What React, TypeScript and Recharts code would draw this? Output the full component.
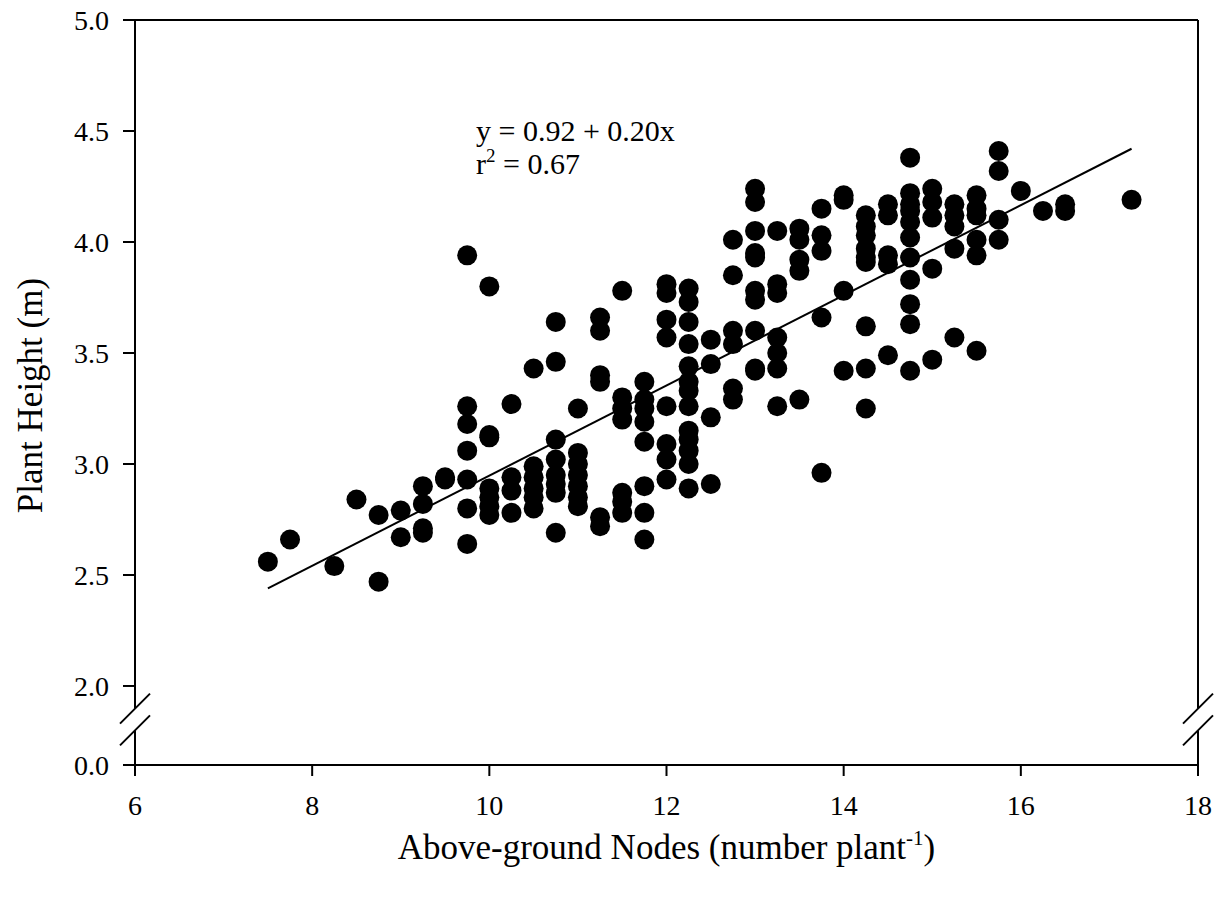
import { Label, ReferenceDot, ReferenceLine, Scatter, ScatterChart, XAxis, YAxis } from "recharts";

// above-ground node counts (one column of points per count)
const NODE_COUNTS = [
  7.5, 7.75, 8.25, 8.5, 8.75, 9, 9.25, 9.5, 9.75, 10, 10.25, 10.5, 10.75, 11,
  11.25, 11.5, 11.75, 12, 12.25, 12.5, 12.75, 13, 13.25, 13.5, 13.75, 14, 14.25,
  14.5, 14.75, 15, 15.25, 15.5, 15.75, 16, 16.25, 16.5, 17.25,
];

// plant heights (m) read for each node count above
const HEIGHTS_BY_NODES = [
  [2.56],
  [2.66],
  [2.54],
  [2.84],
  [2.77, 2.47],
  [2.79, 2.67],
  [2.9, 2.82, 2.71, 2.69],
  [2.94, 2.93],
  [3.94, 3.26, 3.18, 3.06, 2.93, 2.8, 2.64],
  [3.8, 3.13, 3.12, 2.89, 2.85, 2.81, 2.77],
  [3.27, 2.94, 2.88, 2.78],
  [3.43, 2.99, 2.94, 2.89, 2.85, 2.8],
  [3.64, 3.46, 3.11, 3.02, 2.95, 2.91, 2.87, 2.69],
  [3.25, 3.05, 3.0, 2.95, 2.9, 2.85, 2.81],
  [3.66, 3.6, 3.4, 3.37, 2.76, 2.72],
  [3.78, 3.3, 3.25, 3.2, 2.87, 2.83, 2.78],
  [3.37, 3.29, 3.25, 3.19, 3.1, 2.9, 2.78, 2.66],
  [3.81, 3.77, 3.65, 3.57, 3.26, 3.09, 3.02, 2.93],
  [3.79, 3.73, 3.64, 3.54, 3.44, 3.37, 3.33, 3.26, 3.15, 3.11, 3.06, 3.0, 2.89],
  [3.56, 3.45, 3.21, 2.91],
  [4.01, 3.85, 3.6, 3.54, 3.34, 3.29],
  [4.24, 4.18, 4.05, 3.95, 3.93, 3.78, 3.74, 3.6, 3.43, 3.42],
  [4.05, 3.81, 3.77, 3.57, 3.5, 3.43, 3.26],
  [4.06, 4.01, 3.92, 3.87, 3.29],
  [4.15, 4.03, 3.96, 3.66, 2.96],
  [4.21, 4.19, 3.78, 3.42],
  [4.12, 4.07, 4.03, 3.97, 3.93, 3.91, 3.62, 3.43, 3.25],
  [4.17, 4.12, 3.94, 3.9, 3.49],
  [4.38, 4.22, 4.17, 4.14, 4.09, 4.02, 3.93, 3.83, 3.72, 3.63, 3.42],
  [4.24, 4.18, 4.11, 3.88, 3.47],
  [4.17, 4.12, 4.07, 3.97, 3.57],
  [4.21, 4.15, 4.12, 4.01, 3.94, 3.51],
  [4.41, 4.32, 4.1, 4.01],
  [4.23],
  [4.14],
  [4.17, 4.14],
  [4.19],
];

// regression line end points
const FIT_LINE = [
  { x: 7.5, y: 2.44 },
  { x: 17.25, y: 4.42 },
];

const X_TICKS = [6, 8, 10, 12, 14, 16, 18];
// the y axis is broken below 2.0: "0.0" is drawn at AXIS_FLOOR
const AXIS_FLOOR = 1.644;
const BREAK_TOP = 1.898;
const BREAK_BOTTOM = 1.8;
const Y_TICKS = [AXIS_FLOOR, 2.0, 2.5, 3.0, 3.5, 4.0, 4.5, 5.0];

const points = NODE_COUNTS.flatMap((n, i) =>
  HEIGHTS_BY_NODES[i].map((h) => ({ nodes: n, height: h })),
);

const FONT = '"Liberation Serif", "Times New Roman", serif';
const tickStyle = { fill: "#000", fontSize: 28, fontFamily: FONT };
const black = { stroke: "#000", strokeWidth: 2 };

function Dot(props: any) {
  return <circle cx={props.cx} cy={props.cy} r={10} fill="#000" />;
}

function Slash(props: any) {
  const { cx, cy } = props;
  return <line x1={cx - 15} y1={cy + 15} x2={cx + 15} y2={cy - 15} stroke="#000" strokeWidth={2} />;
}

function XTitle({ viewBox }: any) {
  const cx = viewBox.x + viewBox.width / 2;
  return (
    <text x={cx} y={viewBox.y + 94} textAnchor="middle" fontSize={35} fontFamily={FONT} fill="#000">
      Above-ground Nodes (number plant
      <tspan dy={-14} fontSize={21}>-1</tspan>
      <tspan dy={14}>)</tspan>
    </text>
  );
}

function YTitle({ viewBox }: any) {
  const cy = viewBox.y + viewBox.height / 2 + 3;
  const x = viewBox.x + 42;
  return (
    <text
      x={x}
      y={cy}
      transform={`rotate(-90, ${x}, ${cy})`}
      textAnchor="middle"
      fontSize={35}
      fontFamily={FONT}
      fill="#000"
    >
      Plant Height (m)
    </text>
  );
}

export default function App() {
  return (
    <div style={{ position: "absolute", left: 0, top: 0, background: "#fff" }}>
      <ScatterChart width={1220} height={898} margin={{ top: 20, right: 22, bottom: 0, left: 0 }}>
        <XAxis
          type="number"
          dataKey="nodes"
          domain={[6, 18]}
          ticks={X_TICKS}
          interval={0}
          allowDataOverflow
          tickSize={11}
          tickMargin={19}
          height={133}
          axisLine={black}
          tickLine={black}
          tick={tickStyle}
        >
          <Label content={XTitle} />
        </XAxis>
        <YAxis
          type="number"
          dataKey="height"
          domain={[AXIS_FLOOR, 5]}
          ticks={Y_TICKS}
          interval={0}
          allowDataOverflow
          width={135}
          tickSize={12}
          tickMargin={14}
          axisLine={false}
          tickLine={black}
          tick={tickStyle}
          tickFormatter={(v: number) => (v < 2 ? "0.0" : v.toFixed(1))}
        >
          <Label content={YTitle} />
        </YAxis>

        {/* frame, with gaps for the axis break */}
        <ReferenceLine segment={[{ x: 6, y: 5 }, { x: 18, y: 5 }]} {...black} ifOverflow="visible" />
        <ReferenceLine segment={[{ x: 6, y: 5 }, { x: 6, y: BREAK_TOP }]} {...black} ifOverflow="visible" />
        <ReferenceLine segment={[{ x: 6, y: BREAK_BOTTOM }, { x: 6, y: AXIS_FLOOR }]} {...black} ifOverflow="visible" />
        <ReferenceLine segment={[{ x: 18, y: 5 }, { x: 18, y: BREAK_TOP }]} {...black} ifOverflow="visible" />
        <ReferenceLine segment={[{ x: 18, y: BREAK_BOTTOM }, { x: 18, y: AXIS_FLOOR }]} {...black} ifOverflow="visible" />
        <ReferenceDot x={6} y={BREAK_TOP} r={0} shape={Slash} ifOverflow="visible" />
        <ReferenceDot x={6} y={BREAK_BOTTOM} r={0} shape={Slash} ifOverflow="visible" />
        <ReferenceDot x={18} y={BREAK_TOP} r={0} shape={Slash} ifOverflow="visible" />
        <ReferenceDot x={18} y={BREAK_BOTTOM} r={0} shape={Slash} ifOverflow="visible" />

        <ReferenceLine segment={FIT_LINE} stroke="#000" strokeWidth={2} ifOverflow="visible" />

        <Scatter data={points} shape={Dot} isAnimationActive={false} />

        <text x={476} y={141} fontSize={30} fontFamily={FONT} fill="#000">
          y = 0.92 + 0.20x
        </text>
        <text x={476} y={174} fontSize={30} fontFamily={FONT} fill="#000">
          r<tspan dy={-12} fontSize={19}>2</tspan>
          <tspan dy={12}> = 0.67</tspan>
        </text>
      </ScatterChart>
    </div>
  );
}
